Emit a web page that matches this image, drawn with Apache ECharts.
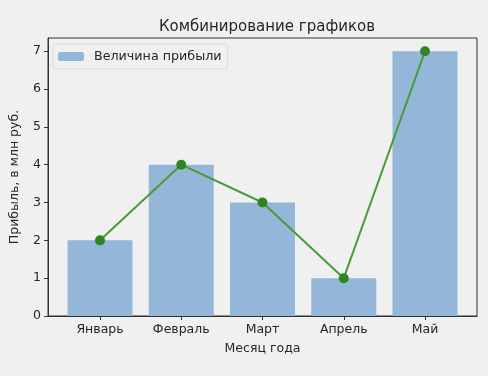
<!DOCTYPE html>
<html>
<head>
    <meta charset="utf-8">
    <title>Комбинирование графиков</title>
    <script src="https://cdn.jsdelivr.net/npm/echarts@6/dist/echarts.min.js"></script>
    <style>
        html, body { margin: 0; padding: 0; background: #f0f0f0; }
    </style>
</head>
<body>
<div id="main" style="width: 488px;height:376px;"></div>
<script type="text/javascript">
    // данные
    var months = ['Январь', 'Февраль', 'Март', 'Апрель', 'Май'];
    var profit = [2, 4, 3, 1, 7];
    var yTicks = [0, 1, 2, 3, 4, 5, 6, 7];

    var positions = months.map(function (m, i) { return i; });
    var points = profit.map(function (v, i) { return [i, v]; });

    var myChart = echarts.init(document.getElementById('main'));
    var font = 'DejaVu Sans';

    myChart.setOption({
        backgroundColor: '#f0f0f0',
        animation: false,
        title: {
            text: 'Комбинирование графиков',
            left: 262,
            textAlign: 'center',
            top: 15,
            textStyle: { fontFamily: font, fontSize: 15, fontWeight: 'normal', color: '#262626' }
        },
        legend: {
            data: ['Величина прибыли'],
            left: 53,
            top: 44,
            padding: [6, 6, 6, 5],
            itemWidth: 26,
            itemHeight: 9,
            itemGap: 8,
            backgroundColor: '#f0f0f0',
            borderColor: '#dcdcdc',
            borderWidth: 1,
            borderRadius: 3,
            textStyle: { fontFamily: font, fontSize: 12.7, color: '#262626', padding: [0, 0, 0, 5] }
        },
        grid: {
            left: 48,
            right: 11,
            top: 38,
            bottom: 60,
            show: true,
            borderColor: '#333',
            borderWidth: 1,
            backgroundColor: 'transparent'
        },
        xAxis: {
            type: 'value',
            min: -0.64,
            max: 4.64,
            name: 'Месяц года',
            nameLocation: 'middle',
            nameGap: 26,
            nameTextStyle: { fontFamily: font, fontSize: 12.5, color: '#262626' },
            splitLine: { show: false },
            axisLine: { onZero: false, lineStyle: { color: '#333' } },
            axisTick: { customValues: positions, length: 4, lineStyle: { color: '#333' } },
            axisLabel: {
                customValues: positions,
                fontFamily: font,
                fontSize: 12.5,
                color: '#262626',
                margin: 7,
                formatter: function (v) { return months[Math.round(v)]; }
            }
        },
        yAxis: {
            type: 'value',
            min: 0,
            max: 7.35,
            name: 'Прибыль, в млн руб.',
            nameLocation: 'middle',
            nameGap: 27,
            nameTextStyle: { fontFamily: font, fontSize: 12.5, color: '#262626' },
            splitLine: { show: false },
            axisLine: { show: true, onZero: false, lineStyle: { color: '#333' } },
            axisTick: { show: true, customValues: yTicks, length: 4, lineStyle: { color: '#333' } },
            axisLabel: {
                customValues: yTicks,
                fontFamily: font,
                fontSize: 12.5,
                color: '#262626',
                margin: 7
            }
        },
        series: [
            {
                name: 'Величина прибыли',
                type: 'bar',
                data: points,
                barWidth: 65,
                itemStyle: { color: '#93b6d9' }
            },
            {
                name: 'Прибыль',
                type: 'line',
                data: points,
                symbol: 'circle',
                symbolSize: 10,
                lineStyle: { color: '#4a9a3a', width: 2 },
                itemStyle: { color: '#2e8522' },
                z: 5
            }
        ]
    });
</script>
</body>
</html>
